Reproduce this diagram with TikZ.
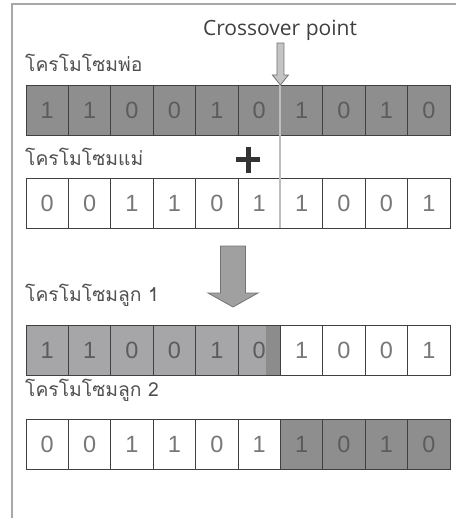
\documentclass[tikz,border=0pt]{standalone}
\usepackage{fontspec}
\setmainfont{Liberation Sans}
\newfontfamily\thaifont[Script=Thai]{Loma}
\newfontfamily\labelfont{Open Sans}
\definecolor{darkcell}{HTML}{8E8E8E}
\definecolor{midcell}{HTML}{A6A6A8}
\definecolor{stripcol}{HTML}{8C8C8C}
\definecolor{cellborder}{HTML}{404040}
\definecolor{digitdark}{HTML}{5C5C5C}
\definecolor{digitlight}{HTML}{787878}
\definecolor{framecol}{HTML}{A8A8A8}
\definecolor{labelcol}{HTML}{505050}
\definecolor{cutcol}{HTML}{BEBEBE}
\definecolor{bigarrow}{HTML}{A0A0A0}
\definecolor{smallarrow}{HTML}{C4C4C4}
\usetikzlibrary{calc}
\begin{document}
\begin{tikzpicture}[x=1pt,y=-1pt,
  cell/.style={draw=cellborder, line width=0.7pt, minimum width=42.4pt, minimum height=50pt,
    inner sep=0pt, outer sep=0pt, anchor=north west, font=\fontsize{23.5}{23.5}\selectfont},
  dark/.style={cell, fill=darkcell, text=digitdark},
  mid/.style={cell, fill=midcell, text=digitdark},
  light/.style={cell, fill=white, text=digitlight},
  striped/.style={mid, path picture={\fill[stripcol] ([xshift=-14pt]path picture bounding box.north east) rectangle (path picture bounding box.south east);}},
  rowlabel/.style={anchor=west, inner sep=0pt, text=labelcol, font=\thaifont\fontsize{19.3}{19.3}\selectfont}
]
\useasboundingbox (0,0) rectangle (456,518);
% frame
\draw[framecol, line width=2pt] (12,518) -- (12,4) -- (456,4);

% labels
\node[inner sep=0pt, text=black!75, font=\labelfont\fontsize{21}{21}\selectfont] (cp) at (280,30) {Crossover point};
\node[rowlabel] (lf) at (25,63) {โครโมโซมพ่อ};
\node[rowlabel] (lm) at (25,157) {โครโมโซมแม่};
\node[rowlabel] (lc1) at (25,295) {โครโมโซมลูก 1};
\node[rowlabel] (lc2) at (25,390) {โครโมโซมลูก 2};

% father
\foreach \d [count=\i] in {1,1,0,0,1,0,1,0,1,0}
  \node[dark] (f\i) at ({26+(\i-1)*42.4},85) {\d};
% mother
\foreach \d [count=\i] in {0,0,1,1,0,1,1,0,0,1}
  \node[light] (m\i) at ({26+(\i-1)*42.4},178) {\d};
% child 1
\foreach \d [count=\i] in {1,1,0,0,1}
  \node[mid] (a\i) at ({26+(\i-1)*42.4},325) {\d};
\node[striped] (a6) at ({26+5*42.4},325) {0};
\foreach \d [count=\i from 7] in {1,0,0,1}
  \node[light] (a\i) at ({26+(\i-1)*42.4},325) {\d};
% child 2
\foreach \d [count=\i] in {0,0,1,1,0,1}
  \node[light] (b\i) at ({26+(\i-1)*42.4},419) {\d};
\foreach \d [count=\i from 7] in {1,0,1,0}
  \node[dark] (b\i) at ({26+(\i-1)*42.4},419) {\d};

% crossover line
\coordinate (tip) at (f6.north east);
\draw[cutcol, line width=2pt] (tip) -- (m6.south east);

% small arrow
\filldraw[fill=smallarrow, draw=black!55, line width=0.8pt]
  ($(tip)+(-3.5,-42)$) -- ($(tip)+(3.5,-42)$) -- ($(tip)+(3.5,-10)$) -- ($(tip)+(8,-10)$)
  -- (tip) -- ($(tip)+(-8,-10)$) -- ($(tip)+(-3.5,-10)$) -- cycle;

% plus
\coordinate (plus) at (248,160);
\draw[black!80, line width=5pt] ($(plus)+(-12,0)$) -- ($(plus)+(12,0)$);
\draw[black!80, line width=5pt] ($(plus)+(0,-13)$) -- ($(plus)+(0,13)$);

% big arrow
\coordinate (bigtip) at (233,307);
\filldraw[fill=bigarrow, draw=black!55, line width=0.8pt]
  ($(bigtip)+(-12.5,-61)$) -- ($(bigtip)+(12.5,-61)$) -- ($(bigtip)+(12.5,-14)$) -- ($(bigtip)+(25,-14)$)
  -- (bigtip) -- ($(bigtip)+(-25,-14)$) -- ($(bigtip)+(-12.5,-14)$) -- cycle;
\end{tikzpicture}
\end{document}
